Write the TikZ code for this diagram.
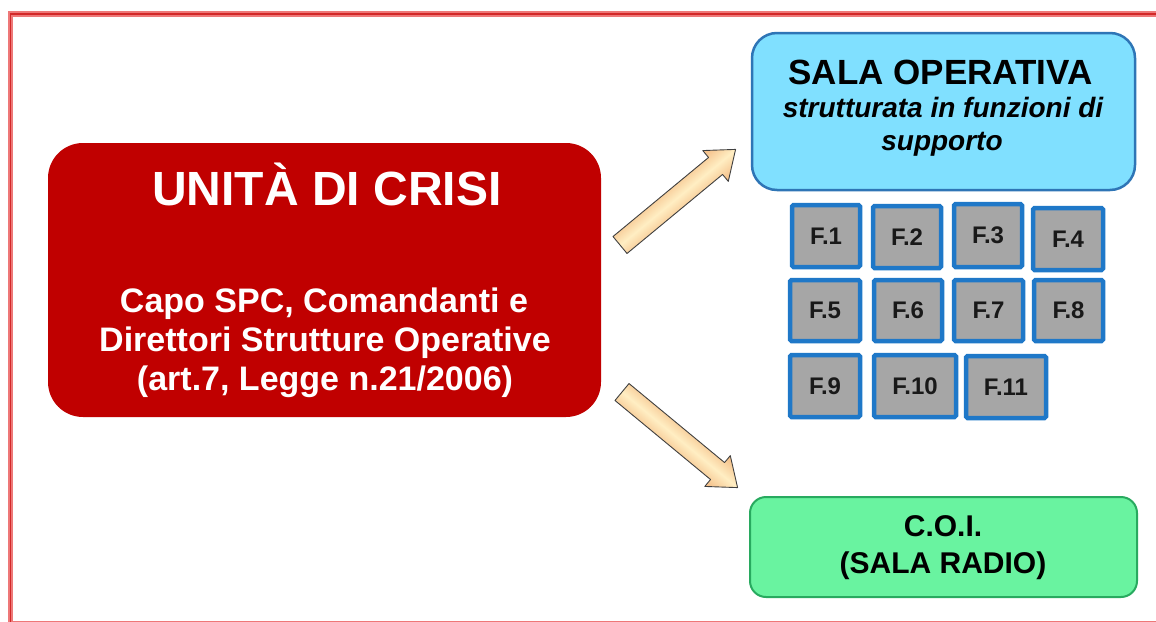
\documentclass[tikz,border=0pt]{standalone}
\usepackage{fontspec}
\setmainfont{Liberation Sans}
\definecolor{framelight}{RGB}{238,120,120}
\definecolor{framedark}{RGB}{210,40,40}
\definecolor{crisisred}{RGB}{192,0,0}
\definecolor{salafill}{RGB}{128,224,255}
\definecolor{salaedge}{RGB}{46,117,182}
\definecolor{ffill}{RGB}{166,166,166}
\definecolor{fedge}{RGB}{31,120,200}
\definecolor{coifill}{RGB}{105,243,160}
\definecolor{coiedge}{RGB}{40,170,95}
\definecolor{arrowedge}{RGB}{243,186,130}
\definecolor{arrowmid}{RGB}{255,238,195}
\begin{document}
\begin{tikzpicture}[x=1pt,y=1pt,
  redbox/.style={fill=crisisred, draw=none, rounded corners=35pt, inner sep=0pt},
  salabox/.style={fill=salafill, draw=salaedge, line width=2.5pt, rounded corners=25pt, inner sep=0pt},
  coibox/.style={fill=coifill, draw=coiedge, line width=2pt, rounded corners=16pt, inner sep=0pt},
  fbox/.style={fill=ffill, draw=fedge, line width=4.5pt, rounded corners=1.5pt, inner sep=0pt,
    font=\fontsize{24}{27}\selectfont\bfseries, text=black!90},
  whitetxt/.style={text=white, inner sep=0pt, anchor=base, font=\fontsize{34}{40}\selectfont\bfseries},
  blacktxt/.style={text=black, inner sep=0pt, anchor=base},
  blockarrow/.style={draw=black!75, line width=0.9pt, line join=round,
    top color=arrowedge, bottom color=arrowedge, middle color=arrowmid}
]
\useasboundingbox (0,0) rectangle (1156,-621);
\fill[white] (0,0) rectangle (1156,-621);
% outer frame
\draw[line width=5.5pt, framelight] (10.5,-14) rectangle (1160,-624);
\draw[line width=1.8pt, framedark] (10.5,-14) rectangle (1160,-624);

% UNITA DI CRISI
\node[redbox, minimum width=553pt, minimum height=274pt] (uc) at (324.5,-280) {};
\node[whitetxt, font=\fontsize{48}{55}\selectfont\bfseries] (uct) at (327,-205) {UNITÀ DI CRISI};
\node[whitetxt] (uc1) at (324,-312) {Capo SPC, Comandanti e};
\node[whitetxt] (uc2) at (325,-351) {Direttori Strutture Operative};
\node[whitetxt] (uc3) at (325,-390) {(art.7, Legge n.21/2006)};

% SALA OPERATIVA
\node[salabox, minimum width=383pt, minimum height=157pt] (so) at (943.5,-111.5) {};
\node[blacktxt, font=\fontsize{35}{40}\selectfont\bfseries] (sot) at (940.5,-84) {SALA OPERATIVA};
\node[blacktxt, font=\fontsize{28}{32}\selectfont\bfseries\itshape] (so1) at (943,-117) {strutturata in funzioni di};
\node[blacktxt, font=\fontsize{28}{32}\selectfont\bfseries\itshape] (so2) at (942,-150) {supporto};

% function boxes
\node[fbox, minimum width=68pt, minimum height=62pt] (f1) at (826,-236) {F.1};
\node[fbox, minimum width=68pt, minimum height=62pt] (f2) at (907,-237) {F.2};
\node[fbox, minimum width=68pt, minimum height=63pt] (f3) at (988,-235.5) {F.3};
\node[fbox, minimum width=70pt, minimum height=62pt] (f4) at (1068,-239) {F.4};
\node[fbox, minimum width=70pt, minimum height=61pt] (f5) at (825,-310.5) {F.5};
\node[fbox, minimum width=68pt, minimum height=61pt] (f6) at (908,-310.5) {F.6};
\node[fbox, minimum width=69pt, minimum height=61pt] (f7) at (988.5,-310.5) {F.7};
\node[fbox, minimum width=69pt, minimum height=61pt] (f8) at (1068.5,-310.5) {F.8};
\node[fbox, minimum width=70pt, minimum height=62pt] (f9) at (825,-386) {F.9};
\node[fbox, minimum width=82pt, minimum height=62pt] (f10) at (915,-386) {F.10};
\node[fbox, minimum width=80pt, minimum height=62pt] (f11) at (1006,-387) {F.11};

% C.O.I.
\node[coibox, minimum width=387pt, minimum height=100pt] (coi) at (943.5,-547) {};
\node[blacktxt, font=\fontsize{30}{34}\selectfont\bfseries] (coi1) at (943,-536) {C.O.I.};
\node[blacktxt, font=\fontsize{30}{34}\selectfont\bfseries] (coi2) at (943,-573) {(SALA RADIO)};

% block arrows
\coordinate (a1) at (620,-245);
\coordinate (a2) at (622,-392);
\begin{scope}[transform canvas={shift={(a1)},rotate=39.6}]
\draw[blockarrow] (0,-11) -- (124,-11) -- (124,-20) -- (150,0) -- (124,20) -- (124,11) -- (0,11) -- cycle;
\end{scope}
\begin{scope}[transform canvas={shift={(a2)},rotate=-39.6}]
\draw[blockarrow] (0,-11) -- (124,-11) -- (124,-20) -- (150,0) -- (124,20) -- (124,11) -- (0,11) -- cycle;
\end{scope}
\end{tikzpicture}
\end{document}
